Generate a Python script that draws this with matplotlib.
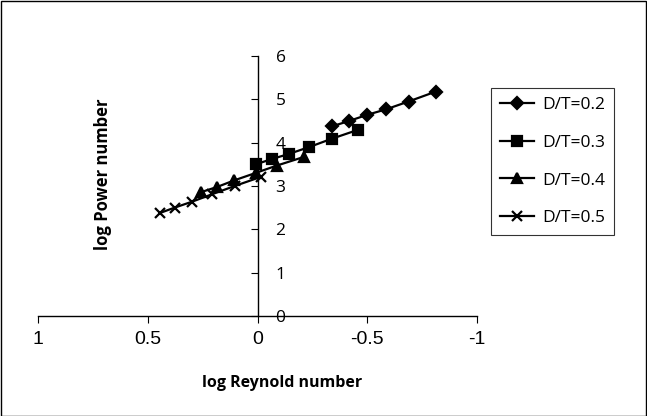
import matplotlib
matplotlib.use("Agg")
import matplotlib.pyplot as plt
from matplotlib.patches import Rectangle

# log Reynold number / log Power number for each D/T ratio
re_02 = [-0.341, -0.417, -0.498, -0.586, -0.688, -0.813]
po_02 = [4.38, 4.50, 4.64, 4.77, 4.95, 5.18]

re_03 = [0.008, -0.064, -0.143, -0.236, -0.338, -0.460]
po_03 = [3.50, 3.62, 3.74, 3.90, 4.09, 4.30]

re_04 = [0.256, 0.183, 0.106, 0.009, -0.087, -0.211]
po_04 = [2.86, 2.98, 3.13, 3.30, 3.47, 3.67]

re_05 = [0.443, 0.378, 0.297, 0.207, 0.104, -0.015]
po_05 = [2.38, 2.50, 2.64, 2.81, 3.00, 3.21]

x_ticks = [1, 0.5, 0, -0.5, -1]
x_labels = ["1", "0.5", "0", "-0.5", "-1"]
y_ticks = [0, 1, 2, 3, 4, 5, 6]

series = [
    ("D/T=0.2", re_02, po_02, "D", 6.5),
    ("D/T=0.3", re_03, po_03, "s", 7.5),
    ("D/T=0.4", re_04, po_04, "^", 7.5),
    ("D/T=0.5", re_05, po_05, "x", 7.5),
]

W, H = 647, 416
fig = plt.figure(figsize=(W / 100, H / 100), dpi=100)
ax = fig.add_axes([38 / W, (H - 316) / H, (477 - 38) / W, (316 - 56) / H])

for name, x, y, m, ms in series:
    ax.plot(x, y, color="black", lw=1.6, marker=m, ms=ms, mew=1.6, label=name)

ax.set_xlim(1, -1)
ax.set_ylim(0, 6)

# y axis crosses at x = 0, labels to its right
ax.spines["left"].set_visible(False)
ax.spines["top"].set_visible(False)
ax.spines["right"].set_position(("data", 0))
ax.yaxis.set_ticks_position("right")
ax.tick_params(axis="y", direction="in", length=5, pad=13)
ax.tick_params(axis="x", direction="out", length=5, pad=6)
for s in ("right", "bottom"):
    ax.spines[s].set_linewidth(1)

ax.set_xticks(x_ticks)
ax.set_xticklabels(x_labels, family="Liberation Sans", fontsize=14)
ax.set_yticks(y_ticks)
ax.set_yticklabels([str(v) for v in y_ticks], family="Open Sans", fontsize=12.5)

fig.text(282 / W, 1 - 383 / H, "log Reynold number", family="Open Sans", fontweight="bold",
         fontsize=11.5, ha="center", va="center")
fig.text(103 / W, 1 - 174 / H, "log Power number", family="Open Sans", fontweight="bold",
         fontsize=12, rotation=90, ha="center", va="center")

leg = ax.legend(loc="upper left", bbox_to_anchor=(491 / W, 1 - 88 / H), bbox_transform=fig.transFigure,
                frameon=True, fancybox=False, edgecolor="black", prop={"family": "Open Sans", "size": 12.5},
                handlelength=2.0, handletextpad=0.45, labelspacing=1.25, borderpad=0.5,
                borderaxespad=0)
leg.get_frame().set_linewidth(0.8)

# border round the whole figure
fig.patches.append(Rectangle((0.5 / W, 0.5 / H), 1 - 1.5 / W, 1 - 1.5 / H, transform=fig.transFigure,
                             fill=False, edgecolor="black", lw=1))

fig.savefig("out.png", dpi=100)
